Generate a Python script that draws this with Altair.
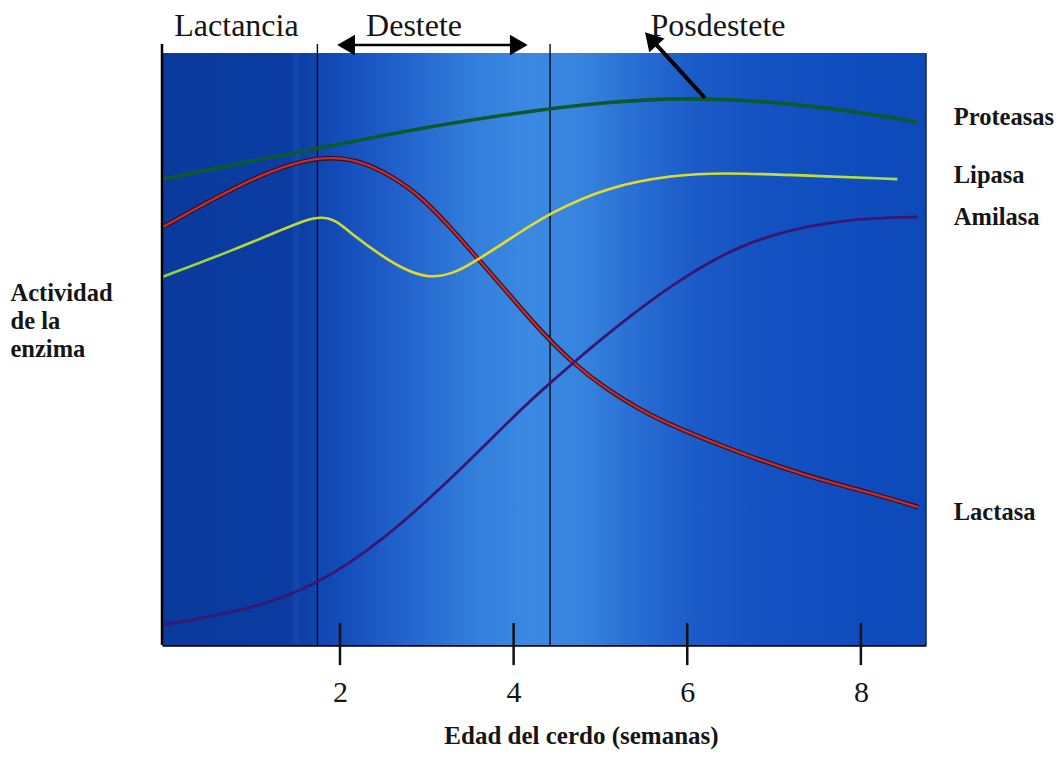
import altair as alt
import pandas as pd

# ---------------- data (weeks, relative enzyme activity 0-100) ----------------
X_MIN, X_MAX = -0.05, 8.75
Y_MIN, Y_MAX = 0, 100

prot_w = [-0.04, 1.0, 2.0, 3.0, 4.0, 5.0, 6.0, 7.0, 8.0, 8.65]
prot_v = [78.7, 81.8, 84.6, 87.5, 89.8, 91.7, 92.5, 91.8, 90.0, 88.3]

lact_w = [-0.04, 0.58, 1.16, 1.60, 1.88, 2.20, 2.50, 2.89, 3.27, 3.58, 3.95, 4.30, 4.68, 5.08, 5.45, 5.84, 6.61, 7.38, 8.14, 8.66]
lact_v = [70.6, 75.7, 79.9, 81.9, 82.4, 81.9, 80.0, 76.4, 70.6, 65.4, 59.2, 53.2, 47.6, 43.1, 39.8, 36.9, 32.4, 28.5, 25.6, 23.3]

lip_w = [-0.04, 0.77, 1.34, 1.60, 1.80, 1.97, 2.10, 2.50, 2.75, 3.00, 3.30, 3.58, 4.00, 4.42, 5.08, 5.84, 6.41, 7.38, 8.42]
lip_v = [62.2, 66.7, 70.2, 71.8, 72.4, 71.6, 69.8, 65.5, 63.4, 62.0, 62.6, 65.0, 69.0, 73.0, 77.4, 79.4, 79.8, 79.3, 78.7]

amil_w = [-0.04, 0.96, 1.74, 2.50, 3.27, 4.04, 4.30, 4.68, 5.08, 5.46, 5.84, 6.23, 6.61, 6.99, 7.38, 7.76, 8.14, 8.65]
amil_v = [3.4, 5.9, 10.1, 17.7, 27.9, 39.2, 42.7, 47.6, 52.5, 56.9, 60.9, 64.5, 67.3, 69.3, 70.7, 71.6, 72.1, 72.3]

tick_weeks = [2, 4, 6, 8]
phase_lines = [1.74, 4.42]

phase_labels = ["Lactancia", "Destete", "Posdestete"]
phase_label_w = [0.808, 2.853, 6.354]
phase_label_v = 102.9

enzyme_labels = ["Proteasas", "Lipasa", "Amilasa", "Lactasa"]
enzyme_label_w = 9.07
enzyme_label_v = [87.8, 78.0, 70.9, 21.1]

x_title = "Edad del cerdo (semanas)"
y_title = ["Actividad", "de la", "enzima"]

FONT = "Liberation Serif"
TXT = "#151515"

# ---------------- scales / axes ----------------
xs = alt.Scale(domain=[X_MIN, X_MAX], nice=False, zero=False)
ys = alt.Scale(domain=[Y_MIN, Y_MAX], nice=False, zero=False)

xaxis = alt.Axis(
    title=x_title, values=tick_weeks, grid=False, ticks=False,
    domain=True, domainColor="#000000", domainWidth=2.5,
    labelFont=FONT, labelFontSize=30, labelColor=TXT, labelPadding=32,
    titleFont=FONT, titleFontSize=25, titleFontWeight="bold", titleColor=TXT,
    titleX=419, titleY=98, titleBaseline="alphabetic", titleAlign="center",
)
yaxis = alt.Axis(
    title=y_title, labels=False, ticks=False, domain=False, grid=False,
    titleFont=FONT, titleFontSize=24.5, titleFontWeight="bold", titleColor=TXT,
    titleAngle=0, titleAlign="left", titleBaseline="top",
    titleX=-152, titleY=228, titleLineHeight=28,
)


def X(f="w"):
    return alt.X(f, type="quantitative", scale=xs, axis=xaxis)


def Y(f="v"):
    return alt.Y(f, type="quantitative", scale=ys, axis=yaxis)


# ---------------- background ----------------
bg_df = pd.DataFrame({"w": [X_MIN], "w2": [X_MAX], "v": [Y_MIN], "v2": [Y_MAX]})
stops = [
    (0.0, "#0a3a9c"), (0.168, "#0b3ca2"), (0.176, "#1447ad"), (0.184, "#0c3fa6"),
    (0.204, "#0f46b0"), (0.259, "#1853c0"), (0.338, "#2669d0"), (0.416, "#3480dd"),
    (0.482, "#3b89e2"), (0.547, "#3784de"), (0.613, "#2a70d4"), (0.691, "#1c5cc8"),
    (0.783, "#1452c2"), (0.90, "#0f4cbd"), (1.0, "#0d49b8"),
]
bg_grad = alt.Gradient(
    gradient="linear", x1=0, x2=1, y1=0, y2=0,
    stops=[alt.GradientStop(offset=o, color=c) for o, c in stops],
)
bg = alt.Chart(bg_df).mark_rect(color=bg_grad).encode(
    x=X("w"), x2="w2", y=Y("v"), y2="v2"
)

# ---------------- frame & phase lines ----------------
vl_df = pd.DataFrame({"w": phase_lines, "v": [0, 0], "v2": [101.5, 101.5]})
vlines = alt.Chart(vl_df).mark_rule(color="#050a14", strokeWidth=1.4).encode(
    x=X("w"), y=Y("v"), y2="v2"
)
left_df = pd.DataFrame({"w": [X_MIN], "v": [0], "v2": [101.5]})
left_border = alt.Chart(left_df).mark_rule(color="#000000", strokeWidth=2.5).encode(
    x=X("w"), y=Y("v"), y2="v2"
)
right_df = pd.DataFrame({"w": [X_MAX], "v": [0], "v2": [100]})
right_border = alt.Chart(right_df).mark_rule(color="#0a2450", strokeWidth=1.5).encode(
    x=X("w"), y=Y("v"), y2="v2"
)

# ---------------- curves ----------------
INTERP = "basis"


def curve_df(ws, vs):
    return pd.DataFrame({"w": ws, "v": vs})


prot = alt.Chart(curve_df(prot_w, prot_v)).mark_line(
    color="#0c5a2c", strokeWidth=3.6, interpolate=INTERP
).encode(x=X(), y=Y())

lact_under = alt.Chart(curve_df(lact_w, lact_v)).mark_line(
    color="#3a0c1c", strokeWidth=4.6, interpolate=INTERP
).encode(x=X(), y=Y())
lact = alt.Chart(curve_df(lact_w, lact_v)).mark_line(
    color="#c03030", strokeWidth=2.3, interpolate=INTERP
).encode(x=X(), y=Y())

lip_grad = alt.Gradient(
    gradient="linear", x1=0, x2=1, y1=0, y2=0,
    stops=[
        alt.GradientStop(offset=0.0, color="#92d040"),
        alt.GradientStop(offset=0.2, color="#c6da36"),
        alt.GradientStop(offset=0.35, color="#e6d82c"),
        alt.GradientStop(offset=0.65, color="#e2dc2e"),
        alt.GradientStop(offset=1.0, color="#a8e040"),
    ],
)
lip = alt.Chart(curve_df(lip_w, lip_v)).mark_line(
    stroke=lip_grad, strokeWidth=2.6, interpolate=INTERP
).encode(x=X(), y=Y())

amil = alt.Chart(curve_df(amil_w, amil_v)).mark_line(
    color="#3a1872", strokeWidth=2.8, interpolate=INTERP
).encode(x=X(), y=Y())

# ---------------- tick marks ----------------
tk_df = pd.DataFrame({"w": tick_weeks, "v": [-3.4] * 4, "v2": [3.7] * 4})
ticks = alt.Chart(tk_df).mark_rule(color="#111111", strokeWidth=2.5).encode(
    x=X("w"), y=Y("v"), y2="v2"
)

# ---------------- labels ----------------
ph_df = pd.DataFrame({"t": phase_labels, "w": phase_label_w, "v": [phase_label_v] * 3})
ph_text = alt.Chart(ph_df).mark_text(
    font=FONT, fontSize=32, color=TXT, align="center", baseline="alphabetic"
).encode(x=X(), y=Y(), text="t")

en_df = pd.DataFrame({"t": enzyme_labels, "w": [enzyme_label_w] * 4, "v": enzyme_label_v})
en_text = alt.Chart(en_df).mark_text(
    font=FONT, fontSize=24.5, fontWeight="bold", color=TXT, align="left", baseline="alphabetic"
).encode(x=X(), y=Y(), text="t")

# ---------------- arrows ----------------
shaft_df = pd.DataFrame({"w": [2.07, 6.204], "w2": [4.06, 5.582], "v": [101.35, 92.4], "v2": [101.35, 102.4],
                         "k": ["d", "p"]})
shaft_d = alt.Chart(shaft_df[shaft_df.k == "d"]).mark_rule(color="#000000", strokeWidth=2.5).encode(
    x=X("w"), x2="w2", y=Y("v"), y2="v2"
)
shaft_p = alt.Chart(shaft_df[shaft_df.k == "p"]).mark_rule(color="#000000", strokeWidth=4).encode(
    x=X("w"), x2="w2", y=Y("v"), y2="v2"
)
head_l = alt.Chart(pd.DataFrame({"w": [2.07], "v": [101.35]})).mark_point(
    shape="triangle-left", filled=True, color="#000000", opacity=1, size=420
).encode(x=X(), y=Y())
head_r = alt.Chart(pd.DataFrame({"w": [4.06], "v": [101.35]})).mark_point(
    shape="triangle-right", filled=True, color="#000000", opacity=1, size=420
).encode(x=X(), y=Y())
head_p = alt.Chart(pd.DataFrame({"w": [5.582], "v": [102.4]})).mark_point(
    shape="triangle-up", filled=True, color="#000000", opacity=1, size=420, angle=318
).encode(x=X(), y=Y())

chart = alt.layer(
    bg, vlines, right_border,
    prot, lact_under, lact, lip, amil,
    left_border, ticks,
    ph_text, en_text,
    shaft_d, shaft_p, head_l, head_r, head_p,
).properties(
    width=764, height=592,
    padding={"left": 154, "top": 45, "right": 129, "bottom": 105},
    autosize=alt.AutoSizeParams(type="none"),
    background="#ffffff",
).configure_view(stroke=None)

chart.save("out.html", embed_options={"renderer": "svg", "actions": False})
